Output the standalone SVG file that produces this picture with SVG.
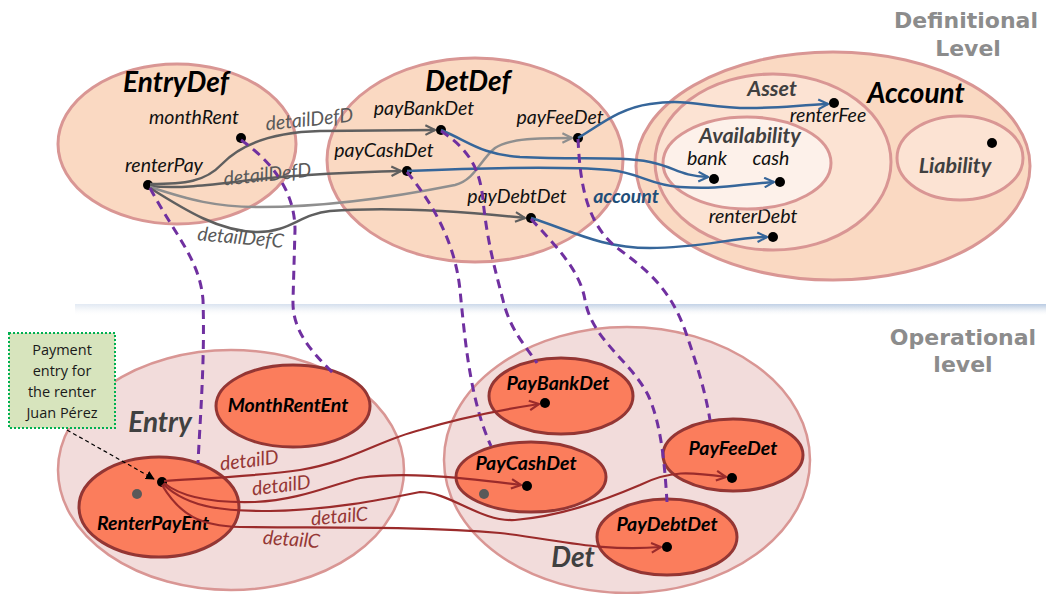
<svg xmlns="http://www.w3.org/2000/svg" width="1046" height="594" viewBox="0 0 1046 594">
  <style>
    .def { fill: #fad9c2; stroke: #d99694; stroke-width: 3; }
    .asset { fill: #fce3d3; stroke: #d99694; stroke-width: 3; }
    .avail { fill: #fdf1ea; stroke: #d99694; stroke-width: 3; }
    .op { fill: #f2dcdb; stroke: #d99694; stroke-width: 2.5; }
    .inst { fill: #fb7d5c; stroke: #943634; stroke-width: 3; }
    .dot { fill: #000; }
    .gdot { fill: #595959; }
    .t { font-family: Lato, "Open Sans", sans-serif; font-style: italic; }
    .lbl { font-size: 19.5px; fill: #111; text-anchor: middle; }
    .title { font-size: 28px; font-weight: bold; fill: #000; text-anchor: middle; }
    .sub { font-size: 21.5px; font-weight: bold; fill: #404040; text-anchor: middle; }
    .big { font-size: 28px; font-weight: bold; fill: #404040; text-anchor: middle; }
    .inl { font-size: 19.5px; font-weight: bold; fill: #000; text-anchor: middle; }
    .lvl { font-family: "DejaVu Sans", Verdana, sans-serif; font-weight: bold; font-size: 22px; fill: #8c8c8c; text-anchor: middle; }
    .rel { font-size: 19.5px; fill: #595959; text-anchor: middle; }
    .rrel { font-size: 19.5px; fill: #953735; text-anchor: middle; }
    .c-gray { fill: none; stroke: #5f5f5f; stroke-width: 2.5; }
    .c-lgray { fill: none; stroke: #8f8f8f; stroke-width: 2.5; }
    .c-blue { fill: none; stroke: #36669a; stroke-width: 2.5; }
    .c-red { fill: none; stroke: #9b2b2b; stroke-width: 2.2; }
    .c-type { fill: none; stroke: #7030a0; stroke-width: 3; stroke-dasharray: 9 6; }
    .note { font-family: "Open Sans", Lato, sans-serif; font-size: 14.5px; fill: #1a1a1a; text-anchor: middle; }
  </style>
  <defs>
    <marker id="ah-gray" viewBox="0 0 10 10" refX="9" refY="5" markerWidth="12" markerHeight="12" markerUnits="userSpaceOnUse" orient="auto">
      <path d="M1,1 L9,5 L1,9" fill="none" stroke="#5f5f5f" stroke-width="1.8"/>
    </marker>
    <marker id="ah-lgray" viewBox="0 0 10 10" refX="9" refY="5" markerWidth="12" markerHeight="12" markerUnits="userSpaceOnUse" orient="auto">
      <path d="M1,1 L9,5 L1,9" fill="none" stroke="#8f8f8f" stroke-width="1.8"/>
    </marker>
    <marker id="ah-blue" viewBox="0 0 10 10" refX="9" refY="5" markerWidth="12" markerHeight="12" markerUnits="userSpaceOnUse" orient="auto">
      <path d="M1,1 L9,5 L1,9" fill="none" stroke="#36669a" stroke-width="1.8"/>
    </marker>
    <marker id="ah-red" viewBox="0 0 10 10" refX="9" refY="5" markerWidth="12" markerHeight="12" markerUnits="userSpaceOnUse" orient="auto">
      <path d="M1,1 L9,5 L1,9" fill="none" stroke="#9b2b2b" stroke-width="1.8"/>
    </marker>
    <marker id="ah-note" viewBox="0 0 10 10" refX="9" refY="5" markerWidth="9" markerHeight="9" markerUnits="userSpaceOnUse" orient="auto">
      <path d="M0,0 L10,5 L0,10 Z" fill="#000"/>
    </marker>
    <linearGradient id="sepV" x1="0" y1="0" x2="0" y2="1">
      <stop offset="0" stop-color="#b9cbe3"/>
      <stop offset="0.35" stop-color="#dde5ef"/>
      <stop offset="1" stop-color="#ffffff" stop-opacity="0"/>
    </linearGradient>
    <linearGradient id="sepH" x1="0" y1="0" x2="1" y2="0">
      <stop offset="0" stop-color="#fff" stop-opacity="0.6"/>
      <stop offset="0.5" stop-color="#fff" stop-opacity="0.2"/>
      <stop offset="1" stop-color="#fff" stop-opacity="0"/>
    </linearGradient>
  </defs>

  <!-- level captions and separator -->
  <g id="levels">
    <text class="lvl" x="966" y="28">Definitional</text>
    <text class="lvl" x="968" y="56">Level</text>
    <rect x="75" y="304" width="971" height="12" fill="url(#sepV)"/>
    <rect x="75" y="304" width="971" height="12" fill="url(#sepH)"/>
    <text class="lvl" x="963" y="345">Operational</text>
    <text class="lvl" x="963" y="372">level</text>
  </g>

  <!-- definitional level -->
  <g id="entryDef">
    <ellipse class="def" cx="177" cy="144" rx="119" ry="80"/>
    <text class="t title" x="176" y="92">EntryDef</text>
    <text class="t lbl" x="194" y="124">monthRent</text>
    <circle class="dot" cx="241" cy="138" r="5"/>
    <text class="t lbl" x="164" y="172">renterPay</text>
    <circle class="dot" cx="148" cy="185" r="5"/>
  </g>

  <g id="detDef">
    <ellipse class="def" cx="475" cy="160" rx="148" ry="102"/>
    <text class="t title" x="468" y="91">DetDef</text>
    <text class="t lbl" x="424" y="115">payBankDet</text>
    <circle class="dot" cx="441" cy="130" r="5"/>
    <text class="t lbl" x="560" y="124">payFeeDet</text>
    <circle class="dot" cx="578" cy="138" r="5"/>
    <text class="t lbl" x="384" y="157">payCashDet</text>
    <circle class="dot" cx="407" cy="171" r="5"/>
    <text class="t lbl" x="517" y="203">payDebtDet</text>
    <circle class="dot" cx="531" cy="218" r="5"/>
  </g>

  <g id="account">
    <ellipse class="def" cx="833" cy="166" rx="197" ry="114"/>
    <text class="t title" x="916" y="103">Account</text>
  </g>

  <g id="asset">
    <ellipse class="asset" cx="773" cy="162" rx="118" ry="88"/>
    <text class="t sub" x="772" y="96">Asset</text>
    <text class="t lbl" x="828" y="122">renterFee</text>
    <circle class="dot" cx="834" cy="103" r="5"/>
    <text class="t lbl" x="753" y="223">renterDebt</text>
    <circle class="dot" cx="773" cy="237" r="5"/>
  </g>

  <g id="availability">
    <ellipse class="avail" cx="747" cy="163" rx="84" ry="46"/>
    <text class="t sub" x="750" y="143">Availability</text>
    <text class="t lbl" x="707" y="165">bank</text>
    <circle class="dot" cx="714" cy="179" r="5"/>
    <text class="t lbl" x="771" y="165">cash</text>
    <circle class="dot" cx="780" cy="182" r="5"/>
  </g>

  <g id="liability">
    <ellipse class="asset" cx="960" cy="158" rx="63" ry="42"/>
    <text class="t sub" x="955" y="173">Liability</text>
    <circle class="dot" cx="992" cy="143" r="5"/>
  </g>

  <!-- operational level -->
  <g id="entry">
    <ellipse class="op" cx="231" cy="470" rx="173" ry="120"/>
    <text class="t big" x="160" y="432">Entry</text>
  </g>

  <g id="det">
    <ellipse class="op" cx="627" cy="460" rx="183" ry="133"/>
    <text class="t big" x="573" y="567">Det</text>
  </g>

  <g id="monthRentEnt">
    <ellipse class="inst" cx="293" cy="406" rx="77" ry="41"/>
    <text class="t inl" x="288" y="412">MonthRentEnt</text>
  </g>

  <g id="renterPayEnt">
    <ellipse class="inst" cx="159" cy="507" rx="80" ry="50"/>
    <text class="t inl" x="153" y="530">RenterPayEnt</text>
    <circle class="gdot" cx="137" cy="494" r="5"/>
    <circle class="dot" cx="162" cy="482" r="5"/>
  </g>

  <g id="payBankDet">
    <ellipse class="inst" cx="561" cy="396" rx="72" ry="38"/>
    <text class="t inl" x="558" y="390">PayBankDet</text>
    <circle class="dot" cx="545" cy="403" r="5"/>
  </g>

  <g id="payCashDet">
    <ellipse class="inst" cx="531" cy="477" rx="75" ry="35"/>
    <text class="t inl" x="526" y="470">PayCashDet</text>
    <circle class="gdot" cx="484" cy="494" r="5"/>
    <circle class="dot" cx="527" cy="486" r="5"/>
  </g>

  <g id="payFeeDet">
    <ellipse class="inst" cx="733" cy="455" rx="70" ry="36"/>
    <text class="t inl" x="733" y="455">PayFeeDet</text>
    <circle class="dot" cx="732" cy="478" r="5"/>
  </g>

  <g id="payDebtDet">
    <ellipse class="inst" cx="667" cy="537" rx="70" ry="38"/>
    <text class="t inl" x="667" y="531">PayDebtDet</text>
    <circle class="dot" cx="667" cy="547" r="5"/>
  </g>

  <g id="note">
    <rect x="9" y="333" width="106" height="95" fill="#d7e4bd" stroke="#00b050" stroke-width="2" stroke-dasharray="2 2"/>
    <text class="note" x="62" y="355">Payment</text>
    <text class="note" x="62" y="376">entry for</text>
    <text class="note" x="62" y="397">the renter</text>
    <text class="note" x="62" y="418">Juan Pérez</text>
  </g>

  <!-- connectors -->
  <g id="connectors">
    <!-- detailDef relations -->
    <path class="c-gray" marker-end="url(#ah-gray)" d="M150,184 C185,184 205,182 222,164 C245,140 280,132 320,131 L435,130"/>
    <path class="c-gray" marker-end="url(#ah-gray)" d="M150,186 C185,190 230,182 270,178 C320,173 360,172 401,171"/>
    <path class="c-lgray" marker-end="url(#ah-lgray)" d="M150,187 C190,200 215,207 260,207 C330,207 400,196 455,185 C475,180 480,160 495,148 C510,138 540,138 572,138"/>
    <path class="c-gray" marker-end="url(#ah-gray)" d="M150,188 C185,210 220,232 258,232 C290,232 300,214 330,211 C380,207 450,210 525,218"/>
    <!-- account relations -->
    <path class="c-blue" marker-end="url(#ah-blue)" d="M441,130 C470,142 480,154 520,157 C580,160 620,156 650,162 C675,167 680,176 708,177"/>
    <path class="c-blue" marker-end="url(#ah-blue)" d="M407,171 C480,168 560,166 610,170 C640,173 650,185 680,187 C720,190 740,184 774,182"/>
    <path class="c-blue" marker-end="url(#ah-blue)" d="M578,138 C600,125 620,108 650,104 C690,98 705,108 750,108 C780,108 800,105 828,104"/>
    <path class="c-blue" marker-end="url(#ah-blue)" d="M531,218 C570,230 600,248 650,248 C700,248 730,238 767,237"/>
    <!-- instance-of links -->
    <path class="c-type" d="M150,188 C175,235 200,260 203,300 C205,360 200,420 198,463"/>
    <path class="c-type" d="M241,140 C270,160 295,190 295,230 L293,300 C292,330 310,350 333,373"/>
    <path class="c-type" d="M407,172 C430,200 455,240 460,290 C465,340 470,400 491,446"/>
    <path class="c-type" d="M441,131 C470,150 480,170 483,200 C487,240 495,270 503,300 C510,330 525,345 537,363"/>
    <path class="c-type" d="M531,219 C555,245 580,270 585,300 C592,340 630,360 648,395 C662,425 665,470 667,502"/>
    <path class="c-type" d="M578,139 C580,180 585,225 620,250 C650,272 670,290 685,330 C697,365 705,390 710,420"/>
    <!-- detail relations -->
    <path class="c-red" marker-end="url(#ah-red)" d="M164,481 C210,478 260,476 300,470 C350,462 380,440 420,430 C460,418 500,410 539,404"/>
    <path class="c-red" marker-end="url(#ah-red)" d="M164,483 C185,500 220,503 255,502 C300,500 330,485 360,478 C400,472 450,476 521,485"/>
    <path class="c-red" marker-end="url(#ah-red)" d="M163,484 C190,510 230,511 270,511 C330,510 380,500 420,492 C450,492 480,522 515,520 C560,516 600,502 640,485 C670,470 690,472 726,477"/>
    <path class="c-red" marker-end="url(#ah-red)" d="M162,485 C180,515 200,526 240,527 C330,528 420,526 500,533 C560,540 600,552 661,547"/>
    <!-- note pointer -->
    <path d="M67,430 L154,479" fill="none" stroke="#000" stroke-width="1.2" stroke-dasharray="4 3" marker-end="url(#ah-note)"/>
  </g>

  <!-- relation labels -->
  <g id="relation-labels">
    <text class="t rel" x="310" y="126" transform="rotate(-6 310 126)">detailDefD</text>
    <text class="t rel" x="268" y="181" transform="rotate(-6 268 181)">detailDefD</text>
    <text class="t rel" x="240" y="244" transform="rotate(5 240 244)">detailDefC</text>
    <text class="t rel" x="626" y="203" style="font-weight:bold;fill:#1f4e79">account</text>
    <text class="t rrel" x="250" y="467" transform="rotate(-7 250 467)">detailD</text>
    <text class="t rrel" x="282" y="492" transform="rotate(-7 282 492)">detailD</text>
    <text class="t rrel" x="340" y="523" transform="rotate(-5 340 523)">detailC</text>
    <text class="t rrel" x="291" y="546" transform="rotate(4 291 546)">detailC</text>
  </g>
</svg>
